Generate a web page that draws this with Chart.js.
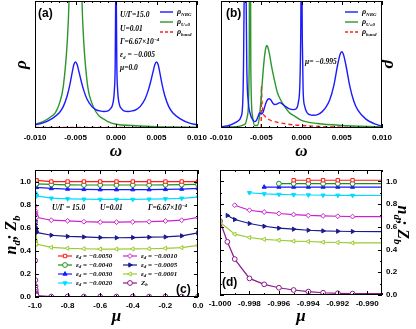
<!DOCTYPE html>
<html>
<head>
<meta charset="utf-8">
<script src="https://cdn.jsdelivr.net/npm/chart.js@4.4.0/dist/chart.umd.min.js"></script>
<style>
  body { margin: 0; background: #fff; width: 416px; height: 329px; position: relative; overflow: hidden; }
  canvas { position: absolute; }
</style>
</head>
<body>
<canvas id="pa" width="208" height="165" style="left:0;top:0"></canvas>
<canvas id="pb" width="208" height="165" style="left:208px;top:0"></canvas>
<canvas id="pc" width="208" height="164" style="left:0;top:165px"></canvas>
<canvas id="pd" width="208" height="164" style="left:208px;top:165px"></canvas>
<script>
// ---- panel (a): mu = 0.0 ----
const omegaA = [-0.010,-0.009,-0.008,-0.007,-0.0065,-0.006,-0.0057,-0.0054,-0.0052,-0.005,-0.0048,-0.0046,-0.0043,-0.004,-0.0036,-0.003,-0.0025,-0.002,-0.0015,-0.001,-0.0007,-0.0004,-0.0002,-0.0001,-0.00004,0,0.00004,0.0001,0.0002,0.0004,0.0007,0.001,0.0015,0.002,0.0025,0.003,0.0036,0.004,0.0043,0.0046,0.0048,0.005,0.0052,0.0054,0.0057,0.006,0.0065,0.007,0.008,0.009,0.010];
const nrgA = [0.025,0.04,0.07,0.12,0.17,0.26,0.34,0.44,0.50,0.52,0.50,0.45,0.37,0.30,0.23,0.17,0.145,0.135,0.13,0.135,0.15,0.19,0.30,0.5,1.0,1.6,1.0,0.5,0.30,0.19,0.15,0.135,0.13,0.135,0.145,0.17,0.23,0.30,0.37,0.45,0.50,0.52,0.50,0.44,0.34,0.26,0.17,0.12,0.07,0.04,0.025];
const omegaAU0 = [-0.010,-0.009,-0.008,-0.0075,-0.007,-0.0065,-0.006,-0.0058,-0.0055,-0.005,-0.0045,-0.0042,-0.004,-0.0035,-0.003,-0.0025,-0.002,-0.0015,-0.001,0,0.002,0.005,0.010];
const u0A = [0.03,0.05,0.09,0.12,0.19,0.33,0.7,1.0,2,5,2,1.0,0.7,0.33,0.2,0.13,0.09,0.07,0.05,0.03,0.02,0.01,0.006];
const omegaABand = [-0.010,0.010];
const bandA = [0.004,0.004];

// ---- panel (b): mu = -0.995 ----
const omegaB = [-0.010,-0.009,-0.008,-0.0075,-0.0073,-0.0072,-0.0071,-0.0070,-0.0069,-0.0068,-0.0066,-0.0064,-0.0062,-0.006,-0.0058,-0.0056,-0.0054,-0.0052,-0.005,-0.0048,-0.0046,-0.0044,-0.0042,-0.004,-0.0038,-0.0035,-0.0033,-0.003,-0.0027,-0.0024,-0.002,-0.0015,-0.001,-0.0007,-0.0004,-0.0002,-0.0001,0,0.0001,0.0002,0.0004,0.0007,0.001,0.0015,0.002,0.0025,0.003,0.0035,0.004,0.0045,0.0048,0.005,0.0052,0.0055,0.006,0.0065,0.007,0.008,0.009,0.010];
const nrgB = [0.01,0.02,0.05,0.09,0.2,0.5,1.2,1.5,1.2,0.5,0.2,0.12,0.08,0.06,0.05,0.06,0.09,0.12,0.11,0.12,0.16,0.2,0.225,0.23,0.22,0.19,0.185,0.19,0.2,0.19,0.17,0.15,0.145,0.15,0.2,0.35,0.7,1.5,0.7,0.3,0.17,0.12,0.105,0.1,0.105,0.125,0.16,0.22,0.33,0.5,0.58,0.6,0.58,0.5,0.33,0.21,0.14,0.07,0.035,0.015];
const omegaBU0 = [-0.010,-0.008,-0.007,-0.0067,-0.0065,-0.0064,-0.0063,-0.0061,-0.0058,-0.0055,-0.0052,-0.005,-0.0048,-0.0046,-0.0044,-0.0043,-0.0042,-0.004,-0.0037,-0.0033,-0.003,-0.0025,-0.002,-0.0015,-0.001,0,0.002,0.005,0.010];
const u0B = [0.005,0.01,0.03,0.1,0.5,3,0.5,0.1,0.02,0.02,0.1,0.25,0.42,0.56,0.64,0.65,0.64,0.59,0.48,0.36,0.28,0.21,0.16,0.12,0.1,0.06,0.035,0.02,0.01];
const omegaBBand = [-0.005,-0.00499,-0.0049,-0.0048,-0.0045,-0.004,-0.003,-0.002,-0.001,0,0.002,0.005,0.010];
const bandB = [0,0.33,0.2,0.13,0.09,0.065,0.045,0.033,0.025,0.02,0.013,0.007,0.004];

const omegaTicks = [-0.010,-0.005,0.000,0.005,0.010];

// ---- panels (c), (d): occupation n_d and Z_b versus mu ----
const muCoarse = [-0.9,-0.8,-0.7,-0.6,-0.5,-0.4,-0.3,-0.2,-0.1,0.0];
const muFine5000 = [-0.995,-0.994,-0.993,-0.992,-0.991];
const nd5000Fine = [1.01,1.01,1.01,1.01,1.01];
const nd5000 = [1.0,1.0,1.0,1.0,1.0,1.0,1.0,1.0,1.0,1.0];
const muFine4000 = [-0.996,-0.995,-0.994,-0.993,-0.992,-0.991];
const nd4000Fine = [0.98,0.98,0.98,0.98,0.98,0.98];
const nd4000 = [0.975,0.972,0.97,0.97,0.97,0.97,0.97,0.972,0.973,0.975];
const muFine3000 = [-0.997,-0.996,-0.995,-0.994,-0.993,-0.992,-0.991];
const nd3000Fine = [0.95,0.95,0.95,0.95,0.95,0.95,0.95];
const nd3000 = [0.94,0.935,0.932,0.93,0.93,0.93,0.93,0.932,0.935,0.94];
const muFine2000 = [-0.998,-0.997,-0.996,-0.995,-0.994,-0.993,-0.992,-0.991];
const nd2000Fine = [0.90,0.89,0.885,0.882,0.88,0.878,0.877,0.876];
const nd2000 = [0.856,0.85,0.847,0.845,0.845,0.845,0.847,0.85,0.855,0.865];
const muFine1000 = [-0.999,-0.998,-0.997,-0.996,-0.995,-0.994,-0.993,-0.992,-0.991];
const nd1000Fine = [0.79,0.746,0.73,0.717,0.708,0.70,0.696,0.693,0.69];
const nd1000 = [0.665,0.66,0.652,0.648,0.648,0.65,0.652,0.658,0.665,0.69];
const muFine0500 = [-0.9995,-0.999,-0.998,-0.997,-0.996,-0.995,-0.994,-0.993,-0.992,-0.991];
const nd0500Fine = [0.70,0.664,0.629,0.605,0.588,0.579,0.57,0.564,0.561,0.559];
const nd0500 = [0.535,0.525,0.52,0.515,0.513,0.515,0.518,0.52,0.53,0.555];
const muFine0100 = [-1.0,-0.999,-0.998,-0.997,-0.996,-0.995,-0.994,-0.993,-0.992,-0.991];
const nd0100Fine = [0.64,0.535,0.506,0.49,0.482,0.474,0.471,0.465,0.462,0.459];
const nd0100 = [0.43,0.422,0.418,0.415,0.415,0.416,0.418,0.422,0.428,0.447];
const muFineZb = [-1.0,-0.9995,-0.999,-0.998,-0.997,-0.996,-0.995,-0.994,-0.993,-0.992,-0.991];
const zbFine = [0.65,0.468,0.316,0.146,0.094,0.064,0.044,0.03,0.02,0.015,0.012];
const zb = [0.004,0.004,0.004,0.004,0.004,0.004,0.004,0.004,0.004,0.004];

const muTicksC = [-1.0,-0.8,-0.6,-0.4,-0.2,0.0];
const muTicksD = [-1.000,-0.998,-0.996,-0.994,-0.992,-0.990];
const occTicks = [0.0,0.2,0.4,0.6,0.8,1.0];

const SERIF = '"Liberation Serif", "DejaVu Serif", serif';
const SANS = '"Liberation Sans", Arial, sans-serif';
const tickFont = { family: SANS, size: 8, weight: 'bold' };
const titleFont = { family: SERIF, size: 17, style: 'italic', weight: 'bold' };

// draws text with sub/superscript parts: [[text, ''|'sub'|'sup'], ...]
function rich(ctx, x, y, parts, size, align) {
  const big = `italic bold ${size}px ${SERIF}`;
  const small = `italic bold ${Math.round(size * 0.68)}px ${SERIF}`;
  let w = 0;
  parts.forEach(p => { ctx.font = p[1] ? small : big; w += ctx.measureText(p[0]).width; });
  let cx = align === 'center' ? x - w / 2 : x;
  ctx.textAlign = 'left';
  ctx.textBaseline = 'middle';
  parts.forEach(p => {
    ctx.font = p[1] ? small : big;
    const dy = p[1] === 'sub' ? size * 0.3 : p[1] === 'sup' ? -size * 0.35 : 0;
    ctx.fillText(p[0], cx, y + dy);
    cx += ctx.measureText(p[0]).width;
  });
}

function panelLabel(ctx, text, x, y) {
  ctx.font = `bold 12px ${SANS}`;
  ctx.fillStyle = '#000';
  ctx.textAlign = 'left';
  ctx.textBaseline = 'middle';
  ctx.fillText(text, x, y);
}

function tickMarks(ctx, scale, a, horiz, nMinor) {
  const vals = scale.ticks.map(t => t.value);
  if (vals.length < 2) return;
  const step = vals[1] - vals[0];
  const mark = (v, len) => {
    const p = Math.round(scale.getPixelForValue(v)) + 0.5;
    if (horiz) {
      if (p < a.left - 0.5 || p > a.right + 0.5) return;
      ctx.moveTo(p, a.bottom); ctx.lineTo(p, a.bottom - len);
      ctx.moveTo(p, a.top); ctx.lineTo(p, a.top + len);
    } else {
      if (p < a.top - 0.5 || p > a.bottom + 0.5) return;
      ctx.moveTo(a.left, p); ctx.lineTo(a.left + len, p);
      ctx.moveTo(a.right, p); ctx.lineTo(a.right - len, p);
    }
  };
  ctx.beginPath();
  for (let i = -1; i < vals.length; i++) {
    const v = vals[0] + i * step;
    if (i >= 0) mark(vals[i], 4);
    for (let k = 1; k < nMinor; k++) mark(v + k * step / nMinor, 2);
  }
  ctx.stroke();
}

const framePlugin = {
  id: 'frame',
  afterDatasetsDraw(chart, args, opts) {
    const { ctx, chartArea: a, scales } = chart;
    ctx.save();
    ctx.strokeStyle = '#000';
    ctx.lineWidth = 1;
    ctx.strokeRect(a.left + 0.5, a.top + 0.5, a.right - a.left - 1, a.bottom - a.top - 1);
    tickMarks(ctx, scales.x, a, true, opts.minorX);
    if (opts.minorY) tickMarks(ctx, scales.y, a, false, opts.minorY);
    ctx.restore();
    if (opts.notes) { ctx.save(); opts.notes(ctx, chart); ctx.restore(); }
  }
};

function setTicks(list) {
  return scale => { scale.ticks = list.map(v => ({ value: v })); };
}

function xy(xs, ys) {
  return xs.map((x, i) => ({ x: x, y: ys[i] }));
}

function specLine(data, color, dashed) {
  return {
    data: data, borderColor: color, borderWidth: 1.4, pointRadius: 0,
    borderDash: dashed ? [4, 3] : [], cubicInterpolationMode: 'monotone', fill: false
  };
}

const specLegend = [
  { parts: [['ρ', ''], ['NRG', 'sub']], color: '#1a1aff', dash: false },
  { parts: [['ρ', ''], ['U=0', 'sub']], color: '#2e962e', dash: false },
  { parts: [['ρ', ''], ['band', 'sub']], color: '#ff2020', dash: true }
];

function drawSpecLegend(ctx, x0, y0) {
  specLegend.forEach((e, i) => {
    const y = y0 + i * 10;
    ctx.strokeStyle = e.color;
    ctx.lineWidth = 1.4;
    ctx.setLineDash(e.dash ? [3, 2] : []);
    ctx.beginPath(); ctx.moveTo(x0, y); ctx.lineTo(x0 + 13, y); ctx.stroke();
    ctx.setLineDash([]);
    ctx.fillStyle = '#000';
    rich(ctx, x0 + 17, y, e.parts, 8, 'left');
  });
}

function spectrumChart(id, datasets, yPos, sizes, notes) {
  return new Chart(document.getElementById(id), {
    type: 'line',
    data: { datasets: datasets },
    options: {
      responsive: false, animation: false, devicePixelRatio: 1,
      layout: { padding: sizes.padding },
      plugins: { legend: { display: false }, tooltip: { enabled: false },
        frame: { minorX: 5, minorY: 0, notes: notes } },
      scales: {
        x: {
          type: 'linear', min: -0.010, max: 0.010,
          grid: { display: false, drawTicks: false }, border: { display: false },
          afterBuildTicks: setTicks(omegaTicks),
          ticks: { font: tickFont, color: '#000', padding: 5, maxRotation: 0,
            callback: v => v.toFixed(3) },
          title: { display: true, text: 'ω', font: titleFont, color: '#000', padding: { top: 0, bottom: 3 } },
          afterFit: s => { s.height = sizes.xh; s.paddingLeft = 0; s.paddingRight = 0; }
        },
        y: {
          position: yPos, min: 0, max: 1,
          grid: { display: false, drawTicks: false }, border: { display: false },
          ticks: { display: false },
          title: { display: true, text: 'ρ', font: titleFont, color: '#000', padding: { top: sizes.tpad, bottom: 0 } },
          afterFit: s => { s.width = sizes.yw; s.paddingTop = 0; s.paddingBottom = 0; }
        }
      }
    },
    plugins: [framePlugin]
  });
}

spectrumChart('pa', [
  specLine(xy(omegaA, nrgA), '#1a1aff'),
  specLine(xy(omegaAU0, u0A), '#2e962e'),
  specLine(xy(omegaABand, bandA), '#ff2020', true)
], 'left', { padding: { top: 1, right: 11, left: 0, bottom: 0 }, xh: 37, yw: 35, tpad: 11 },
(ctx) => {
  panelLabel(ctx, '(a)', 38, 14);
  ctx.fillStyle = '#000';
  rich(ctx, 120, 15, [['U/Γ=15.0', '']], 7.5, 'left');
  rich(ctx, 120, 29, [['U=0.01', '']], 7.5, 'left');
  rich(ctx, 120, 42, [['Γ=6.67×10', ''], ['−4', 'sup']], 7.5, 'left');
  rich(ctx, 120, 55, [['ε', ''], ['d', 'sub'], [' = −0.005', '']], 7.5, 'left');
  rich(ctx, 120, 68, [['μ=0.0', '']], 7.5, 'left');
  drawSpecLegend(ctx, 160, 12);
});

spectrumChart('pb', [
  specLine(xy(omegaB, nrgB), '#1a1aff'),
  specLine(xy(omegaBU0, u0B), '#2e962e'),
  specLine(xy(omegaBBand, bandB), '#ff2020', true)
], 'right', { padding: { top: 1, right: 0, left: 13, bottom: 0 }, xh: 37, yw: 34, tpad: 16 },
(ctx) => {
  panelLabel(ctx, '(b)', 18, 14);
  ctx.fillStyle = '#000';
  rich(ctx, 97, 62, [['μ= −0.995', '']], 7.5, 'left');
  drawSpecLegend(ctx, 137, 12);
});

// ---- occupation panels ----
const occSeries = [
  { eps: '−0.0050', mu: muFine5000, fine: nd5000Fine, coarse: nd5000, color: '#ff1a1a', style: 'rect', rot: 0, open: true },
  { eps: '−0.0040', mu: muFine4000, fine: nd4000Fine, coarse: nd4000, color: '#1e8f1e', style: 'circle', rot: 0, open: true },
  { eps: '−0.0030', mu: muFine3000, fine: nd3000Fine, coarse: nd3000, color: '#1a1aff', style: 'triangle', rot: 0, open: false },
  { eps: '−0.0020', mu: muFine2000, fine: nd2000Fine, coarse: nd2000, color: '#00dcff', style: 'triangle', rot: 180, open: false },
  { eps: '−0.0010', mu: muFine1000, fine: nd1000Fine, coarse: nd1000, color: '#cc22cc', style: 'rectRot', rot: 0, open: true },
  { eps: '−0.0005', mu: muFine0500, fine: nd0500Fine, coarse: nd0500, color: '#1a1a8c', style: 'triangle', rot: 90, open: false },
  { eps: '−0.0001', mu: muFine0100, fine: nd0100Fine, coarse: nd0100, color: '#9acd32', style: 'triangle', rot: 270, open: true },
  { eps: null, mu: muFineZb, fine: zbFine, coarse: zb, color: '#8b1a8b', style: 'circle', rot: 0, open: true }
];

function occDatasets() {
  return occSeries.map(s => ({
    data: xy(s.mu.concat(muCoarse), s.fine.concat(s.coarse)),
    borderColor: s.color, backgroundColor: s.color,
    pointBackgroundColor: s.open ? '#fff' : s.color, pointBorderColor: s.color,
    pointStyle: s.style, pointRotation: s.rot, pointRadius: 2.4, pointBorderWidth: 1,
    borderWidth: 1.2, tension: 0, fill: false
  }));
}

function drawOccTitle(ctx, x, y, rot) {
  ctx.translate(x, y);
  ctx.rotate(rot);
  ctx.fillStyle = '#000';
  rich(ctx, 0, 0, [['n', ''], ['d', 'sub'], ['; Z', ''], ['b', 'sub']], 16, 'center');
}

function occChart(id, xmin, xmax, ticks, digits, yPos, sizes, notes) {
  return new Chart(document.getElementById(id), {
    type: 'line',
    data: { datasets: occDatasets() },
    options: {
      responsive: false, animation: false, devicePixelRatio: 1,
      layout: { padding: sizes.padding },
      plugins: { legend: { display: false }, tooltip: { enabled: false },
        frame: { minorX: 2, minorY: 2, notes: notes } },
      scales: {
        x: {
          type: 'linear', min: xmin, max: xmax,
          grid: { display: false, drawTicks: false }, border: { display: false },
          afterBuildTicks: setTicks(ticks),
          ticks: { font: tickFont, color: '#000', padding: 4, maxRotation: 0,
            callback: v => v.toFixed(digits) },
          title: { display: true, text: 'μ', font: titleFont, color: '#000', padding: { top: 0, bottom: 2 } },
          afterFit: s => { s.height = sizes.xh; s.paddingLeft = 0; s.paddingRight = 0; }
        },
        y: {
          position: yPos, min: 0, max: 1.1,
          grid: { display: false, drawTicks: false }, border: { display: false },
          afterBuildTicks: setTicks(occTicks),
          ticks: { font: tickFont, color: '#000', padding: 4, callback: v => v.toFixed(1) },
          afterFit: s => { s.width = sizes.yw; s.paddingTop = 0; s.paddingBottom = 0; }
        }
      }
    },
    plugins: [framePlugin]
  });
}

occChart('pc', -1.0, 0.0, muTicksC, 1, 'left',
  { padding: { top: 5, right: 10, left: 0, bottom: 0 }, xh: 32, yw: 35 },
  (ctx) => {
    panelLabel(ctx, '(c)', 176, 125);
    ctx.fillStyle = '#000';
    rich(ctx, 52, 43, [['U/Γ = 15.0', '']], 7.5, 'left');
    rich(ctx, 100, 43, [['U=0.01', '']], 7.5, 'left');
    rich(ctx, 148, 43, [['Γ=6.67×10', ''], ['−4', 'sup']], 7.5, 'left');
    occSeries.forEach((s, i) => {
      const x0 = i < 4 ? 58 : 123;
      const y = 91 + (i % 4) * 9;
      ctx.strokeStyle = s.color;
      ctx.lineWidth = 1.2;
      ctx.beginPath(); ctx.moveTo(x0, y); ctx.lineTo(x0 + 14, y); ctx.stroke();
      ctx.fillStyle = s.open ? '#fff' : s.color;
      ctx.lineWidth = 1;
      Chart.helpers.drawPoint(ctx, { pointStyle: s.style, rotation: s.rot, radius: 2.4, borderWidth: 1 }, x0 + 7, y);
      ctx.fillStyle = '#000';
      const parts = s.eps ? [['ε', ''], ['d', 'sub'], [' = ' + s.eps, '']] : [['Z', ''], ['b', 'sub']];
      rich(ctx, x0 + 18, y, parts, 7, 'left');
    });
    ctx.save();
    drawOccTitle(ctx, 12, 70, -Math.PI / 2);
    ctx.restore();
  });

occChart('pd', -1.0, -0.989, muTicksD, 3, 'right',
  { padding: { top: 4, right: 0, left: 12, bottom: 0 }, xh: 34, yw: 34 },
  (ctx) => {
    panelLabel(ctx, '(d)', 14, 118);
    ctx.save();
    drawOccTitle(ctx, 194, 60, Math.PI / 2);
    ctx.restore();
  });
</script>
</body>
</html>
